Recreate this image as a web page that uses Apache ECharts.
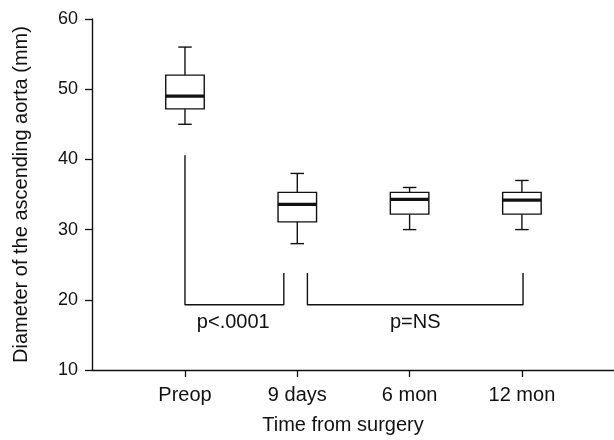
<!DOCTYPE html>
<html>
<head>
<meta charset="utf-8">
<script src="https://cdn.jsdelivr.net/npm/echarts@6/dist/echarts.min.js"></script>
<style>
  html, body { margin: 0; padding: 0; background: #fff; }
  #chart { width: 614px; height: 440px; }
</style>
</head>
<body>
<div id="chart"></div>
<script>
// time points (x positions 1..4 on the axis)
var categories = ["Preop", "9 days", "6 mon", "12 mon"];
var positions = [1, 2, 3, 4];

// box stats: [low whisker, q1, median, q3, high whisker]
var boxStats = [
  [45, 47.2, 49, 52, 56],
  [28, 31.1, 33.6, 35.3, 38],
  [30, 32.2, 34.3, 35.3, 36],
  [30, 32.2, 34.2, 35.3, 37]
];

// significance brackets in data coords
var bracketLeft = [[1, 40.6], [1, 19.3], [1.88, 19.3], [1.88, 23.8]];
var bracketRight = [[2.09, 23.8], [2.09, 19.3], [4.01, 19.3], [4.01, 23.8]];
var pLabels = [[1.43, 16.8, "p<.0001"], [3.05, 16.8, "p=NS"]];

var yTicks = [10, 20, 30, 40, 50, 60];

var font = '"Liberation Sans", Arial, sans-serif';
var ink = "#111";

var boxData = positions.map(function (p, i) {
  return [p].concat(boxStats[i]);
});

function renderBox(params, api) {
  var x = api.value(0);
  var lo = api.coord([x, api.value(1)]);
  var q1 = api.coord([x, api.value(2)]);
  var md = api.coord([x, api.value(3)]);
  var q3 = api.coord([x, api.value(4)]);
  var hi = api.coord([x, api.value(5)]);
  var bw = api.size([0.343, 0])[0];
  var cw = api.size([0.12, 0])[0];
  var cx = q3[0];
  var line = { stroke: ink, lineWidth: 1.4 };
  return {
    type: "group",
    children: [
      { type: "line", shape: { x1: cx, y1: hi[1], x2: cx, y2: q3[1] }, style: line },
      { type: "line", shape: { x1: cx, y1: q1[1], x2: cx, y2: lo[1] }, style: line },
      { type: "line", shape: { x1: cx - cw / 2, y1: hi[1], x2: cx + cw / 2, y2: hi[1] }, style: line },
      { type: "line", shape: { x1: cx - cw / 2, y1: lo[1], x2: cx + cw / 2, y2: lo[1] }, style: line },
      {
        type: "rect",
        shape: { x: cx - bw / 2, y: q3[1], width: bw, height: q1[1] - q3[1] },
        style: { fill: "#fff", stroke: ink, lineWidth: 1.4 }
      },
      { type: "line", shape: { x1: cx - bw / 2, y1: md[1], x2: cx + bw / 2, y2: md[1] }, style: { stroke: ink, lineWidth: 3.2 } }
    ]
  };
}

var chart = echarts.init(document.getElementById("chart"));

var option = {
  animation: false,
  backgroundColor: "#fff",
  grid: { left: 92, right: 0, top: 19, bottom: 70, outerBoundsMode: "none" },
  xAxis: {
    type: "value",
    min: 0.172,
    max: 4.82,
    name: "Time from surgery",
    nameLocation: "middle",
    nameGap: 45,
    nameTextStyle: { fontFamily: font, fontSize: 20, color: ink, padding: [0, 20, 0, 0] },
    splitLine: { show: false },
    axisLine: { lineStyle: { color: ink, width: 1.4 } },
    axisTick: { customValues: positions, length: 7, lineStyle: { color: ink, width: 1.3 } },
    axisLabel: {
      customValues: positions,
      margin: 15,
      fontFamily: font,
      fontSize: 20,
      color: ink,
      formatter: function (v) { return categories[positions.indexOf(v)]; }
    }
  },
  yAxis: {
    type: "value",
    min: 10,
    max: 60,
    interval: 10,
    name: "Diameter of the ascending aorta (mm)",
    nameLocation: "middle",
    nameGap: 61,
    nameTextStyle: { fontFamily: font, fontSize: 20, color: ink },
    splitLine: { show: false },
    axisLine: { show: true, lineStyle: { color: ink, width: 1.4 } },
    axisTick: { show: true, length: 7, lineStyle: { color: ink, width: 1.3 } },
    axisLabel: {
      margin: 14,
      fontFamily: font,
      fontSize: 18,
      color: ink,
      customValues: yTicks
    }
  },
  series: [
    {
      type: "line",
      data: bracketLeft,
      symbol: "none",
      lineStyle: { color: ink, width: 1.4 },
      silent: true
    },
    {
      type: "line",
      data: bracketRight,
      symbol: "none",
      lineStyle: { color: ink, width: 1.4 },
      silent: true
    },
    {
      type: "custom",
      renderItem: renderBox,
      data: boxData,
      encode: { x: 0, y: [1, 2, 3, 4, 5] },
      z: 3
    },
    {
      type: "scatter",
      data: pLabels,
      symbolSize: 0,
      itemStyle: { opacity: 1, color: ink },
      label: {
        show: true,
        position: "inside",
        fontFamily: font,
        fontSize: 20,
        color: ink,
        formatter: function (p) { return p.data[2]; }
      }
    }
  ]
};

chart.setOption(option);
</script>
</body>
</html>
